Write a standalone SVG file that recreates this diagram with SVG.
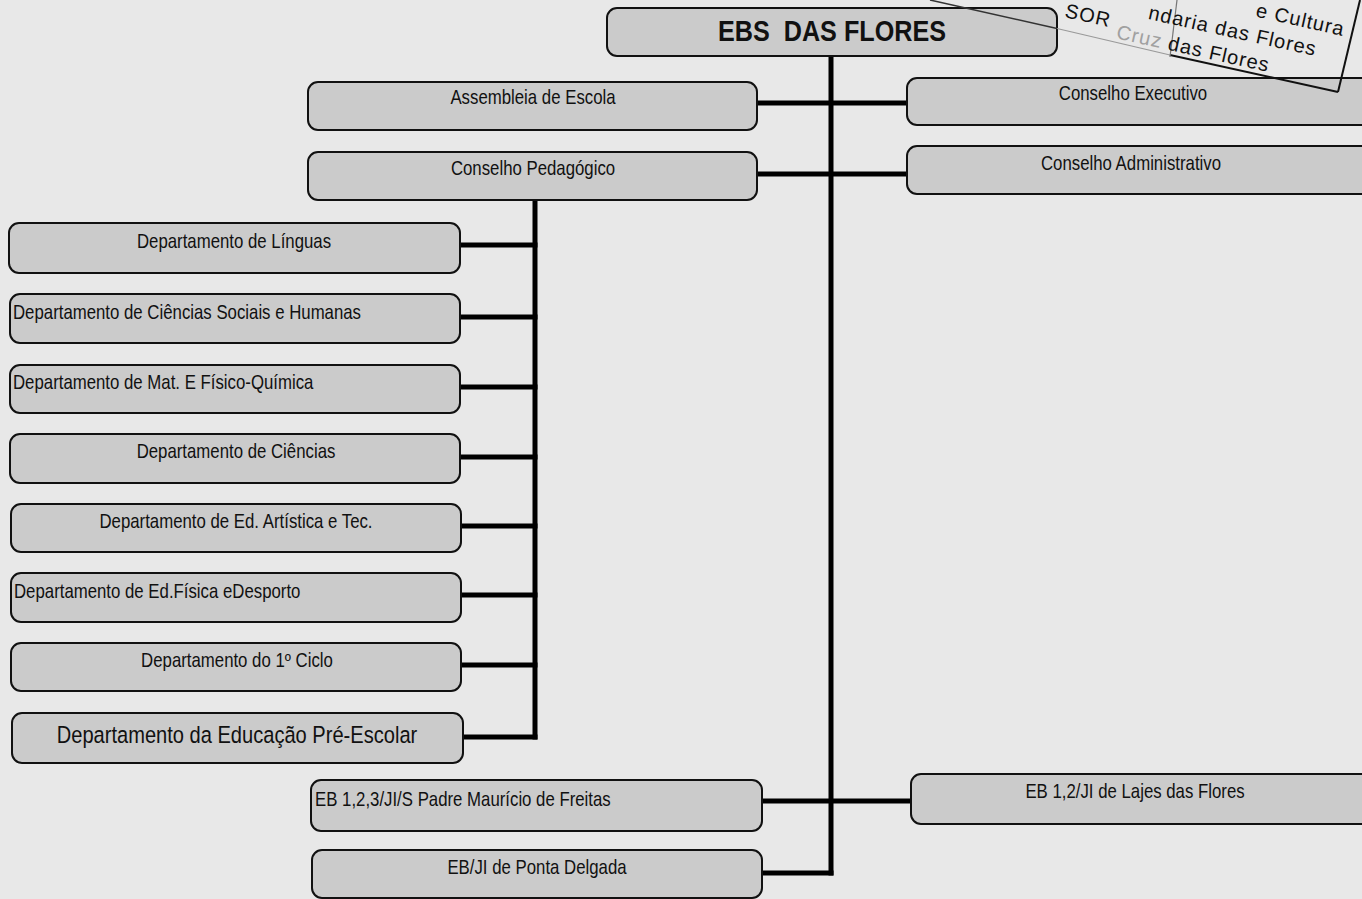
<svg xmlns="http://www.w3.org/2000/svg" width="1362" height="899" viewBox="0 0 1362 899">
<defs>
<style>
.bg{fill:#e8e8e8}
.box{fill:#cbcbcb;stroke:#111;stroke-width:2}
.t{font-family:"Liberation Sans",Arial,sans-serif;font-size:20px;fill:#111}
.c{text-anchor:middle}
.title{font-family:"Liberation Sans",Arial,sans-serif;font-size:30px;font-weight:bold;fill:#111;text-anchor:middle}
.big{font-size:24.5px}
.conn line{stroke:#000;stroke-width:5;stroke-linecap:square}
.stamp{font-family:"Liberation Sans",Arial,sans-serif;font-size:20px;fill:#111;letter-spacing:1px}
.sl{stroke:#111;stroke-width:2;fill:none}
</style>
</defs>
<rect class="bg" x="0" y="0" width="1362" height="899"/>

<g id="connectors" class="conn">
<line x1="831" y1="56" x2="831" y2="873"/>
<line x1="757" y1="103" x2="907" y2="103"/>
<line x1="757" y1="174" x2="907" y2="174"/>
<line x1="535" y1="200" x2="535" y2="737"/>
<line x1="460" y1="245" x2="535" y2="245"/>
<line x1="460" y1="317" x2="535" y2="317"/>
<line x1="460" y1="387" x2="535" y2="387"/>
<line x1="460" y1="457" x2="535" y2="457"/>
<line x1="460" y1="526" x2="535" y2="526"/>
<line x1="460" y1="595" x2="535" y2="595"/>
<line x1="460" y1="665" x2="535" y2="665"/>
<line x1="463" y1="737" x2="535" y2="737"/>
<line x1="762" y1="801" x2="911" y2="801"/>
<line x1="762" y1="873" x2="831" y2="873"/>
</g>

<g id="n-ebs"><rect class="box" x="607" y="8" width="450" height="48" rx="10"/><text class="title" transform="translate(832,41) scale(0.84,1)">EBS&#160; DAS FLORES</text></g>
<g id="n-assembleia"><rect class="box" x="308" y="82" width="449" height="48" rx="10"/><text class="t c" transform="translate(533,104) scale(0.84,1)">Assembleia de Escola</text></g>
<g id="n-executivo"><rect class="box" x="907" y="78" width="480" height="47" rx="10"/><text class="t c" transform="translate(1133,100) scale(0.84,1)">Conselho Executivo</text></g>
<g id="n-pedagogico"><rect class="box" x="308" y="152" width="449" height="48" rx="10"/><text class="t c" transform="translate(533,175) scale(0.84,1)">Conselho Pedagógico</text></g>
<g id="n-administrativo"><rect class="box" x="907" y="146" width="480" height="48" rx="10"/><text class="t c" transform="translate(1131,170) scale(0.84,1)">Conselho Administrativo</text></g>

<g id="n-linguas"><rect class="box" x="9" y="223" width="451" height="50" rx="10"/><text class="t c" transform="translate(234,248) scale(0.84,1)">Departamento de Línguas</text></g>
<g id="n-csh"><rect class="box" x="10" y="294" width="450" height="49" rx="10"/><text class="t" transform="translate(13,319) scale(0.84,1)">Departamento de Ciências Sociais e Humanas</text></g>
<g id="n-mat"><rect class="box" x="10" y="365" width="450" height="48" rx="10"/><text class="t" transform="translate(13,389) scale(0.84,1)">Departamento de Mat. E Físico-Química</text></g>
<g id="n-ciencias"><rect class="box" x="10" y="434" width="450" height="49" rx="10"/><text class="t c" transform="translate(236,458) scale(0.84,1)">Departamento de Ciências</text></g>
<g id="n-artistica"><rect class="box" x="11" y="504" width="450" height="48" rx="10"/><text class="t c" transform="translate(236,528) scale(0.84,1)">Departamento de Ed. Artística e Tec.</text></g>
<g id="n-fisica"><rect class="box" x="11" y="573" width="450" height="49" rx="10"/><text class="t" transform="translate(14,598) scale(0.84,1)">Departamento de Ed.Física eDesporto</text></g>
<g id="n-ciclo"><rect class="box" x="11" y="643" width="450" height="48" rx="10"/><text class="t c" transform="translate(237,667) scale(0.84,1)">Departamento do 1º Ciclo</text></g>
<g id="n-preescolar"><rect class="box" x="12" y="713" width="451" height="50" rx="10"/><text class="t c big" transform="translate(237,743) scale(0.82,1)">Departamento da Educação Pré-Escolar</text></g>

<g id="n-padre"><rect class="box" x="311" y="780" width="451" height="51" rx="10"/><text class="t" transform="translate(315,806) scale(0.84,1)">EB 1,2,3/JI/S Padre Maurício de Freitas</text></g>
<g id="n-lajes"><rect class="box" x="911" y="774" width="480" height="50" rx="10"/><text class="t c" transform="translate(1135,798) scale(0.84,1)">EB 1,2/JI de Lajes das Flores</text></g>
<g id="n-ponta"><rect class="box" x="312" y="850" width="450" height="48" rx="10"/><text class="t c" transform="translate(537,874) scale(0.84,1)">EB/JI de Ponta Delgada</text></g>

<g id="stamp">
<line x1="930" y1="0" x2="1057" y2="28.5" stroke="#333" stroke-width="1.5"/>
<line x1="1057" y1="28.5" x2="1170" y2="55" stroke="#999" stroke-width="1.2"/>
<line class="sl" x1="1170" y1="55" x2="1338" y2="92"/>
<line class="sl" x1="1360" y1="0" x2="1338" y2="92"/>
<line x1="1177" y1="0" x2="1170" y2="57" stroke="#777" stroke-width="1.2"/>
<text class="stamp" font-size="10" transform="translate(1064,17) rotate(12.5)">SOR</text>
<text class="stamp" text-anchor="end" transform="translate(1343,36) rotate(12.5)">e Cultura</text>
<text class="stamp" text-anchor="end" transform="translate(1315,56) rotate(12.5)">ndaria das Flores</text>
<text class="stamp" text-anchor="end" transform="translate(1268,72) rotate(12.5)"><tspan fill="#a0a0a0">Cruz</tspan> das Flores</text>
</g>
</svg>
